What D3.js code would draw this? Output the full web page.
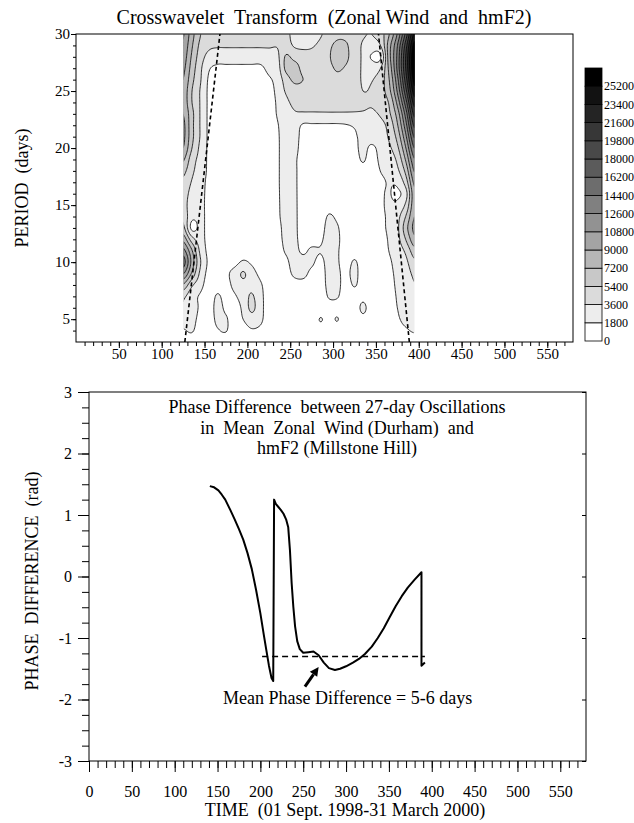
<!DOCTYPE html>
<html><head><meta charset="utf-8">
<script src="https://cdn.jsdelivr.net/npm/d3@7"></script>
<style>
body{margin:0;background:#fff}
svg{display:block}
text{font-family:"Liberation Serif","Times New Roman",serif;fill:#000;white-space:pre}
</style>
</head><body>
<svg id="c" width="634" height="823"></svg>
<script>
// ---------------- DATA ----------------
// Cross-wavelet power grid (values in thousands), rows = periods (top->bottom), cols = days
const gridDays = [125,135,145,155,165,175,185,195,205,215,225,235,245,255,265,275,285,295,305,315,325,335,345,355,365,375,385,395];
const gridPeriods = [30,29,28,27,26,25,24,23,22,21,20,19,18,17,16,15,14,13,12,11,10,9,8,7,6,5,4,3];
const powerK = [
[11,8,5.5,4.5,4.3,4.3,4.3,4.3,4.3,4.3,4.2,3.9,4.0,3.0,2.4,2.8,3.4,4.3,5.0,5.0,4.6,3.8,3.6,4.5,7,11,17,24],
[10.5,7.5,5,4.0,3.8,3.8,3.8,3.8,3.8,3.8,3.8,3.7,4.3,3.4,3.2,3.4,4.0,5.0,5.8,5.6,4.5,3.4,3.0,3.5,8,12.5,19,26],
[10,7,4.5,3.0,2.6,2.6,2.6,2.6,2.6,2.6,2.8,3.2,5.6,4.8,4.3,4.2,4.6,5.2,6.3,5.8,4.4,3.3,1.6,1.5,8,13,20,27],
[9.5,6.5,4.0,2.0,1.5,1.5,1.5,1.5,1.5,1.5,2.2,2.8,5.8,6.2,4.8,4.5,4.8,5.0,5.6,5.2,4.3,3.4,3.0,3.5,7.5,13,20,27],
[9,6,3.8,1.6,1.3,1.3,1.3,1.3,1.3,1.3,1.6,2.4,4.5,5.8,5.4,4.6,4.8,4.8,5.0,4.8,4.4,3.4,3.5,4.4,7,12,19,26],
[8.5,5.5,3.5,1.5,1.2,1.2,1.2,1.2,1.2,1.2,1.3,2.2,3.8,4.5,4.6,4.5,4.6,4.6,4.7,4.6,4.4,3.6,3.8,4.6,6.5,11,17.5,24.5],
[8.5,5.5,3.5,1.5,1.2,1.2,1.2,1.2,1.2,1.2,1.2,2.0,3.2,4.0,4.2,4.2,4.3,4.4,4.4,4.4,4.3,4.0,3.8,4.4,5.5,9.5,15.5,22.5],
[9,6,3.5,1.5,1.2,1.2,1.2,1.2,1.2,1.2,1.2,1.9,2.8,3.4,3.4,3.4,3.4,3.4,3.4,3.4,3.4,3.4,3.3,3.8,5,8,13.5,20.5],
[9.5,6,3.5,1.5,1.2,1.2,1.2,1.2,1.2,1.2,1.2,1.7,2.6,2.6,1.6,1.6,1.6,1.6,1.6,1.7,2.0,2.5,2.6,3.0,4.2,7,12,18.5],
[9.5,6,3.5,1.5,1.2,1.2,1.2,1.2,1.2,1.2,1.2,1.6,2.6,2.4,1.3,1.2,1.2,1.2,1.2,1.2,1.6,2.2,2.3,2.5,3.8,6,10.5,16.5],
[9,5.5,3.2,1.5,1.2,1.2,1.2,1.2,1.2,1.2,1.2,1.6,2.5,2.2,1.3,1.2,1.2,1.2,1.2,1.2,1.5,2.1,1.6,2.2,3.2,5,9,14.5],
[7.5,4.5,3.0,1.5,1.2,1.2,1.2,1.2,1.2,1.2,1.2,1.6,2.5,2.0,1.3,1.2,1.2,1.2,1.2,1.2,1.4,1.9,1.4,2.0,2.6,4,7.5,12.5],
[6,4,2.8,1.5,1.2,1.2,1.2,1.2,1.2,1.2,1.2,1.6,2.5,2.0,1.3,1.2,1.2,1.2,1.2,1.2,1.3,1.5,1.3,1.8,2.2,3.2,6,11],
[5,3.5,2.5,1.4,1.2,1.2,1.2,1.2,1.2,1.2,1.2,1.6,2.5,2.0,1.3,1.2,1.2,1.2,1.2,1.2,1.2,1.3,1.3,1.6,1.9,2.2,4.5,9.5],
[4.5,3,2.3,1.4,1.2,1.2,1.2,1.2,1.2,1.2,1.2,1.6,2.4,2.0,1.3,1.2,1.2,1.2,1.2,1.2,1.2,1.2,1.2,1.6,1.9,1.5,3,8.5],
[4.5,2.5,2.2,1.4,1.2,1.2,1.2,1.2,1.2,1.2,1.2,1.6,2.3,2.0,1.3,1.2,1.2,1.4,1.3,1.2,1.2,1.2,1.2,1.6,2.0,2.2,4,8.5],
[5,2.3,2.2,1.4,1.2,1.2,1.2,1.2,1.2,1.2,1.2,1.6,2.2,2.0,1.3,1.2,1.2,1.9,1.6,1.2,1.2,1.2,1.2,1.6,2.0,3.0,5.5,9],
[6,1.4,2.2,1.3,1.2,1.2,1.2,1.2,1.2,1.2,1.2,1.5,2.1,2.0,1.3,1.2,1.3,2.2,1.9,1.2,1.2,1.2,1.2,1.6,2.0,3.2,6.5,9.5],
[8.5,4.5,2.6,1.3,1.2,1.2,1.2,1.2,1.2,1.2,1.2,1.5,2.0,2.0,1.4,1.3,1.6,2.2,2.0,1.2,1.2,1.2,1.2,1.5,1.9,3.0,5.5,8.5],
[11.5,7.5,3.2,1.4,1.2,1.2,1.2,1.2,1.2,1.2,1.2,1.4,1.9,2.1,1.6,2.0,1.85,2.2,1.9,1.3,1.4,1.3,1.2,1.4,1.8,2.6,4,6.5],
[13.5,8.5,3.8,1.5,1.2,1.2,1.3,2.0,1.6,1.2,1.2,1.3,1.6,2.2,2.2,2.0,1.5,2.2,1.9,1.4,1.9,1.3,1.2,1.3,1.6,2.3,3.2,5],
[11,7,3.2,1.3,1.2,1.5,2.4,3.8,2.4,1.5,1.2,1.2,1.4,2.0,2.1,1.5,1.2,2.2,2.0,1.5,2.1,1.2,1.2,1.3,1.5,2.1,2.8,4],
[7,4,2.4,1.0,1.1,1.3,2.2,3.0,3.0,2.0,1.2,1.1,1.2,1.4,1.4,1.2,1.2,2.1,2.1,1.3,1.9,1.2,1.1,1.2,1.4,2.0,2.6,3.5],
[4,2.5,1.6,0.8,2.0,1.2,1.6,2.6,3.8,2.3,1.1,1.0,1.0,1.1,1.1,1.0,1.0,1.9,1.9,1.1,1.2,1.5,1.0,1.1,1.3,1.9,2.5,3.2],
[3.5,2.8,1.5,0.8,2.4,1.4,1.0,2.2,4.0,2.4,1.0,0.9,0.9,1.0,1.0,1.0,1.0,1.3,1.3,1.0,1.2,2.0,1.2,1.0,1.2,1.8,2.4,3.0],
[3,2.5,1.2,0.6,2.3,2.0,0.9,1.8,2.8,2.2,0.9,0.8,0.8,0.9,0.9,1.0,1.85,1.4,1.85,1.0,1.0,1.5,1.0,0.8,1.0,1.6,2.2,2.6],
[1.6,2.0,0.8,0.5,1.6,1.9,0.7,1.0,1.6,1.4,0.7,0.6,0.6,0.7,0.7,0.8,1.2,1.0,1.2,0.8,0.8,1.0,0.7,0.6,0.8,1.2,1.6,2.0],
[0.8,0.8,0.5,0.3,0.8,0.8,0.4,0.5,0.6,0.6,0.5,0.4,0.4,0.5,0.5,0.5,0.6,0.6,0.6,0.5,0.5,0.6,0.5,0.4,0.5,0.5,0.8,1.0]
];
const powerLevels = [0,1800,3600,5400,7200,9000,10800,12600,14400,16200,18000,19800,21600,23400,25200];
// cone of influence (dashed)
const coiPeriods = [3, 30];
const coiLeftDays = [127, 168];
const coiRightDays = [389, 353];
// phase difference curve
const phaseDays = [141,146,151,155,159,165,170,175,180,185,190,195,200,204,207,210,213,215,216,218,221,224,227,230,232.5,234.5,236.5,238.5,240.5,243,246,250,256,262,268,274,280,287,293,300,308,315,322,330,337,344,351,358,365,372,380,388,388,392];
const phaseRad  = [1.47,1.45,1.40,1.33,1.25,1.08,0.93,0.77,0.60,0.38,0.12,-0.22,-0.60,-0.95,-1.20,-1.45,-1.65,-1.70,1.25,1.18,1.13,1.08,1.02,0.93,0.80,0.43,-0.11,-0.50,-0.81,-1.05,-1.18,-1.24,-1.23,-1.22,-1.28,-1.40,-1.49,-1.52,-1.50,-1.46,-1.40,-1.34,-1.26,-1.14,-1.00,-0.84,-0.66,-0.48,-0.32,-0.18,-0.05,0.07,-1.45,-1.40];
const meanPhase = -1.3;
const meanDays = [202, 392];
const arrowFrom = [252, -1.79], arrowTo = [268, -1.47];
// tick labels
const upperXLabels = [50,100,150,200,250,300,350,400,450,500,550];
const upperYLabels = [5,10,15,20,25,30];
const lowerXLabels = [0,50,100,150,200,250,300,350,400,450,500,550];
const lowerYLabels = [-3,-2,-1,0,1,2,3];

// ---------------- DRAW ----------------
const FONT = '"Liberation Serif","Times New Roman",serif';
const svg = d3.select('#c');
const fmt = d => (d < 0 ? '-' : '') + Math.abs(d);

// ===== Upper panel =====
const xU = d3.scaleLinear().domain([0,580]).range([76,573]);
const yU = d3.scaleLinear().domain([3,30]).range([342,34]);
const grey = k => { const v = Math.round(255*(1 - k/14)); return `rgb(${v},${v},${v})`; };

const nx = gridDays.length, ny = gridPeriods.length, F = 8;
const W = (nx-1)*F+1, H = (ny-1)*F+1;
const cr = (p0,p1,p2,p3,t)=>0.5*((2*p1)+(-p0+p2)*t+(2*p0-5*p1+4*p2-p3)*t*t+(-p0+3*p1-3*p2+p3)*t*t*t);
const S = (r,c)=>powerK[Math.max(0,Math.min(ny-1,r))][Math.max(0,Math.min(nx-1,c))]*1000;
const vals = new Float64Array(W*H);
for (let j=0;j<H;j++){ const gy=j/F, r=Math.min(ny-2,Math.floor(gy)), ty=gy-r;
  for (let i=0;i<W;i++){ const gx=i/F, c=Math.min(nx-2,Math.floor(gx)), tx=gx-c;
    const rv=[-1,0,1,2].map(dr=>cr(S(r+dr,c-1),S(r+dr,c),S(r+dr,c+1),S(r+dr,c+2),tx));
    vals[j*W+i]=cr(rv[0],rv[1],rv[2],rv[3],ty);
  }}
const dStep = (gridDays[1]-gridDays[0])/F, pStep = (gridPeriods[0]-gridPeriods[1])/F;
const proj = d3.geoTransform({point(x,y){ this.stream.point(xU(gridDays[0]+(x-0.5)*dStep), yU(gridPeriods[0]-(y-0.5)*pStep)); }});
const cpath = d3.geoPath(proj);
const contours = d3.contours().size([W,H]).thresholds(powerLevels.slice(1))(vals);

const defs = svg.append('defs');
defs.append('clipPath').attr('id','cf').append('rect')
  .attr('x',xU(gridDays[0])).attr('y',yU(30)).attr('width',xU(gridDays[nx-1])-xU(gridDays[0])).attr('height',yU(3)-yU(30));
defs.append('clipPath').attr('id','cs').append('rect')
  .attr('x',xU(gridDays[0])+0.8).attr('y',yU(30)+0.5).attr('width',xU(gridDays[nx-1])-xU(gridDays[0])-1.6).attr('height',yU(3)-yU(30)-1);
svg.append('g').attr('clip-path','url(#cf)').selectAll('path').data(contours).join('path')
  .attr('d',cpath).attr('fill',(d,i)=>grey(i+1)).attr('stroke','none');
svg.append('g').attr('clip-path','url(#cs)').selectAll('path').data(contours).join('path')
  .attr('d',cpath).attr('fill','none').attr('stroke','#000').attr('stroke-width',0.8);

// cone of influence
const coiLine = d3.line().x(d=>xU(d[0])).y(d=>yU(d[1]));
[coiLeftDays, coiRightDays].forEach(days=>{
  svg.append('path').attr('d',coiLine(coiPeriods.map((p,i)=>[days[i],p])))
    .attr('fill','none').attr('stroke','#000').attr('stroke-width',1.6).attr('stroke-dasharray','4,3');
});

// frame + axes
svg.append('rect').attr('x',xU(0)).attr('y',yU(30)).attr('width',xU(580)-xU(0)).attr('height',yU(3)-yU(30))
  .attr('fill','none').attr('stroke','#000').attr('stroke-width',1);
function styleAxis(g,fs){ g.attr('font-family',FONT).attr('font-size',fs); g.select('.domain').remove(); g.selectAll('line').attr('stroke','#000'); g.selectAll('text').attr('fill','#000'); }
svg.append('g').attr('transform',`translate(0,${yU(3)})`)
  .call(d3.axisBottom(xU).tickValues(d3.range(10,580,10)).tickSize(4).tickFormat('').tickSizeOuter(0)).call(g=>styleAxis(g,15));
svg.append('g').attr('transform',`translate(0,${yU(3)})`)
  .call(d3.axisBottom(xU).tickValues(upperXLabels).tickSize(6).tickPadding(0).tickFormat(fmt).tickSizeOuter(0)).call(g=>styleAxis(g,15));
svg.append('g').attr('transform',`translate(${xU(0)},0)`)
  .call(d3.axisLeft(yU).tickValues(d3.range(4,30,1)).tickSize(3).tickFormat('').tickSizeOuter(0)).call(g=>styleAxis(g,15));
svg.append('g').attr('transform',`translate(${xU(0)},0)`)
  .call(d3.axisLeft(yU).tickValues(upperYLabels).tickSize(5).tickPadding(1).tickFormat(fmt).tickSizeOuter(0)).call(g=>styleAxis(g,15));

svg.append('text').attr('x',324).attr('y',24).attr('text-anchor','middle').attr('font-size',20)
  .text('Crosswavelet  Transform  (Zonal Wind  and  hmF2)');
svg.append('text').attr('transform',`translate(28,188) rotate(-90)`).attr('text-anchor','middle').attr('font-size',18)
  .text('PERIOD  (days)');

// colour bar
const cbX = 585, cbTop = 68, cbH = 18.2, cbW = 17;
const cb = svg.append('g');
powerLevels.forEach((lv,k)=>{
  cb.append('rect').attr('x',cbX).attr('y',cbTop+(14-k)*cbH).attr('width',cbW).attr('height',cbH)
    .attr('fill',grey(k)).attr('stroke','#000').attr('stroke-width',0.8);
  cb.append('text').attr('x',cbX+cbW+2).attr('y',cbTop+(15-k)*cbH).attr('dy','0.35em').attr('font-size',12).text(lv);
});

// ===== Lower panel =====
const xL = d3.scaleLinear().domain([0,580]).range([89,586]);
const yL = d3.scaleLinear().domain([-3,3]).range([761,392]);
svg.append('rect').attr('x',xL(0)).attr('y',yL(3)).attr('width',xL(580)-xL(0)).attr('height',yL(-3)-yL(3))
  .attr('fill','none').attr('stroke','#000').attr('stroke-width',1);
svg.append('g').attr('transform',`translate(0,${yL(-3)})`)
  .call(d3.axisBottom(xL).tickValues(d3.range(10,580,10)).tickSize(7).tickFormat('').tickSizeOuter(0)).call(g=>styleAxis(g,16));
svg.append('g').attr('transform',`translate(0,${yL(-3)})`)
  .call(d3.axisBottom(xL).tickValues(lowerXLabels).tickSize(11).tickPadding(14).tickFormat(fmt).tickSizeOuter(0)).call(g=>styleAxis(g,16));
svg.append('g').attr('transform',`translate(${xL(0)},0)`)
  .call(d3.axisLeft(yL).tickValues(d3.range(-3,3.01,0.25)).tickSize(7).tickFormat('').tickSizeOuter(0)).call(g=>styleAxis(g,16));
svg.append('g').attr('transform',`translate(${xL(0)},0)`)
  .call(d3.axisLeft(yL).tickValues(lowerYLabels).tickSize(11).tickPadding(6).tickFormat(fmt).tickSizeOuter(0)).call(g=>styleAxis(g,16));
svg.append('g').attr('transform',`translate(${xL(580)},0)`)
  .call(d3.axisLeft(yL).tickValues(lowerYLabels).tickSize(4).tickFormat('').tickSizeOuter(0)).call(g=>styleAxis(g,16));

// phase curve
const pl = d3.line().x((d,i)=>xL(phaseDays[i])).y((d,i)=>yL(phaseRad[i]));
svg.append('path').attr('d',pl(phaseDays)).attr('fill','none').attr('stroke','#000').attr('stroke-width',2).attr('stroke-linejoin','round');
svg.append('line').attr('x1',xL(meanDays[0])).attr('x2',xL(meanDays[1])).attr('y1',yL(meanPhase)).attr('y2',yL(meanPhase))
  .attr('stroke','#000').attr('stroke-width',1.4).attr('stroke-dasharray','6,4');
// arrow
{
  const x1=xL(arrowFrom[0]), y1=yL(arrowFrom[1]), x2=xL(arrowTo[0]), y2=yL(arrowTo[1]);
  const a=Math.atan2(y2-y1,x2-x1), L=9, w=4.5;
  const bx=x2-L*Math.cos(a), by=y2-L*Math.sin(a);
  svg.append('line').attr('x1',x1).attr('y1',y1).attr('x2',bx).attr('y2',by).attr('stroke','#000').attr('stroke-width',3);
  svg.append('path').attr('d',`M${x2},${y2}L${bx+w*Math.sin(a)},${by-w*Math.cos(a)}L${bx-w*Math.sin(a)},${by+w*Math.cos(a)}Z`).attr('fill','#000');
}
svg.append('text').attr('x',223).attr('y',704).attr('font-size',18).text('Mean Phase Difference = 5-6 days');
const ann = ['Phase Difference  between 27-day Oscillations','in  Mean  Zonal  Wind (Durham)  and','hmF2 (Millstone Hill)'];
ann.forEach((t,i)=>svg.append('text').attr('x',337).attr('y',413+i*20.5).attr('text-anchor','middle').attr('font-size',18).text(t));
svg.append('text').attr('transform',`translate(38,581) rotate(-90)`).attr('text-anchor','middle').attr('font-size',18)
  .text('PHASE  DIFFERENCE  (rad)');
svg.append('text').attr('x',345).attr('y',816).attr('text-anchor','middle').attr('font-size',18)
  .text('TIME  (01 Sept. 1998-31 March 2000)');
</script>
</body></html>
